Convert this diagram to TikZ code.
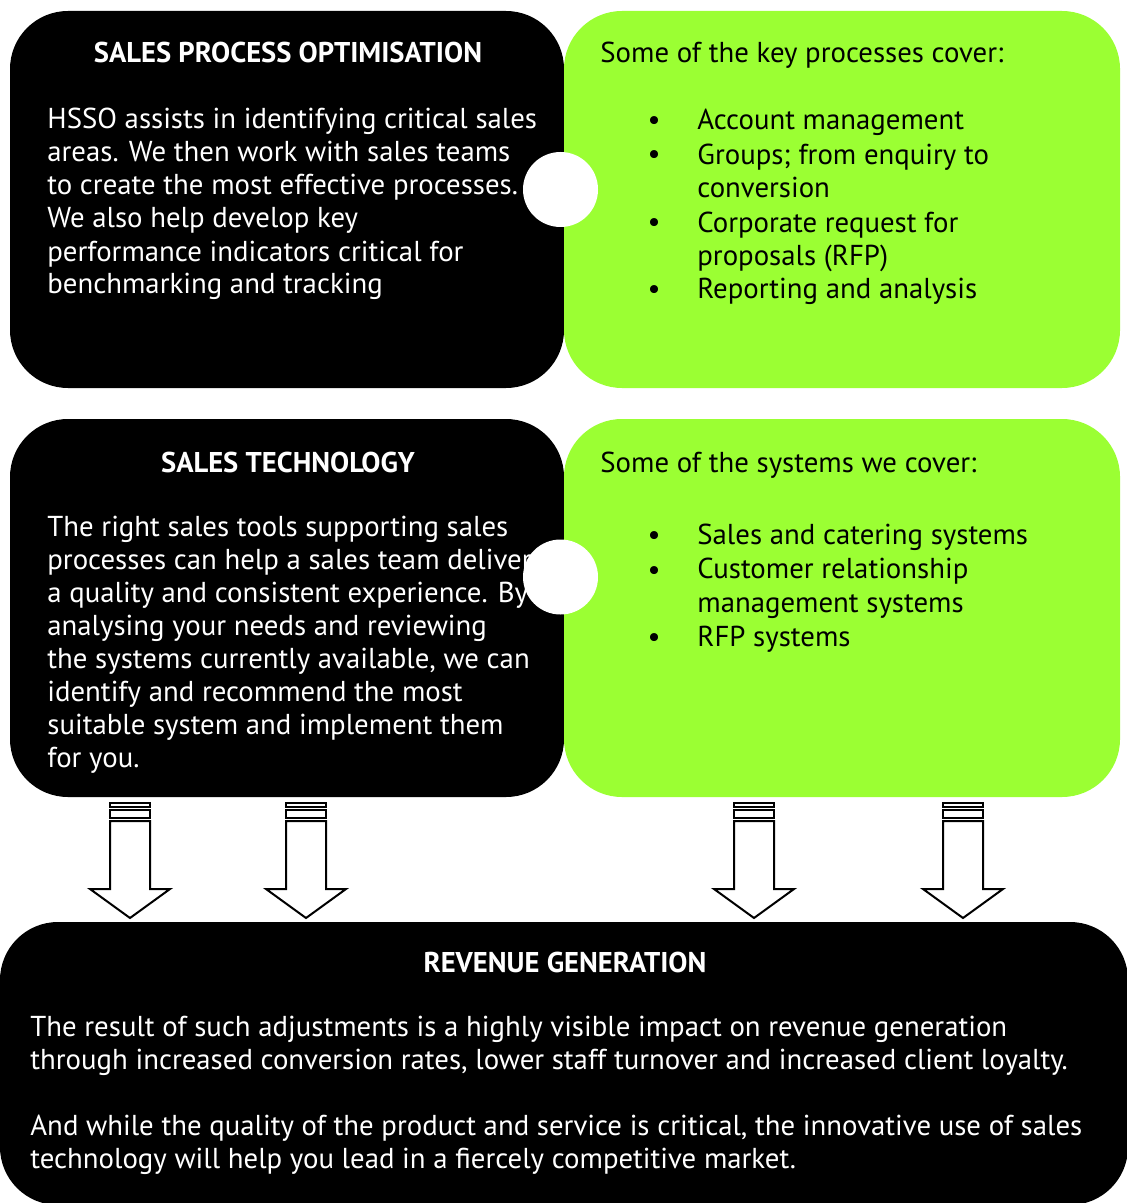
\documentclass[tikz,border=0pt]{standalone}
\usepackage{fontspec}
\setmainfont{PT Sans}
\usetikzlibrary{positioning}
\definecolor{limegreen}{HTML}{9BFF33}
\def\hollowarrow(#1){\draw[arrowline] (#1-20,821) -- (#1-20,889) -- (#1-40,889) -- (#1,918) -- (#1+40,889) -- (#1+20,889) -- (#1+20,821) -- cycle;
	\draw[arrowline] (#1-20,803) rectangle (#1+20,807);
	\draw[arrowline] (#1-20,810) rectangle (#1+20,818);}
\tikzset{
	darkbox/.style={fill=black, draw=none, rounded corners=29pt},
	greenbox/.style={fill=limegreen, draw=none, rounded corners=29pt},
	headtext/.style={text=white, inner sep=0pt, anchor=base, font=\bfseries\fontsize{14.3}{16}\selectfont},
	bodytext/.style={text=white, inner sep=0pt, anchor=base west, align=left, font=\fontsize{14.4}{16.5}\selectfont},
	listtext/.style={text=black, inner sep=0pt, anchor=base west, align=left, font=\fontsize{14.4}{16.9}\selectfont},
	dot/.style={text=black, inner sep=0pt, anchor=base, font=\fontsize{14.4}{16.9}\selectfont},
	knob/.style={circle, fill=white, minimum size=37.5pt, inner sep=0pt},
	arrowline/.style={draw=black, fill=white, line width=1pt}
}
\begin{document}
\begin{tikzpicture}[x=0.5pt, y=-0.5pt]
			%%%%% START %%%%%
			\useasboundingbox (0,0) rectangle (1126,1203);
			
			% multi-line texts sit on the baseline of their last line
			\fill[darkbox] (10,11) rectangle (564,388);
			\fill[greenbox] (564,11) rectangle (1120,388);
			\node[knob] (optknob) at (560.5,189.5) {};
			
			\node[headtext] (opttitle) at (288,63) {SALES PROCESS OPTIMISATION};
			\node[bodytext] (opttext) at (47,294) {HSSO assists in identifying critical sales\\areas. We then work with sales teams\\to create the most effective processes.\\We also help develop key\\performance indicators critical for\\benchmarking and tracking};
			
			\node[listtext] (optintro) at (600,63) {Some of the key processes cover:};
			\node[dot] (optdota) at (654,130) {•};
			\node[listtext] (optitema) at (697,130) {Account management};
			\node[dot] (optdotb) at (654,164) {•};
			\node[listtext] (optitemb) at (697,198) {Groups; from enquiry to\\conversion};
			\node[dot] (optdotc) at (654,232) {•};
			\node[listtext] (optitemc) at (697,266) {Corporate request for\\proposals (RFP)};
			\node[dot] (optdotd) at (654,299) {•};
			\node[listtext] (optitemd) at (697,299) {Reporting and analysis};
			
			\fill[darkbox] (10,419) rectangle (564,797);
			\fill[greenbox] (564,419) rectangle (1120,797);
			\node[knob] (techknob) at (560.5,577) {};
			
			\node[headtext] (techtitle) at (288,472) {SALES TECHNOLOGY};
			\node[bodytext] (techtext) at (47,767) {The right sales tools supporting sales\\processes can help a sales team deliver\\a quality and consistent experience. By\\analysing your needs and reviewing\\the systems currently available, we can\\identify and recommend the most\\suitable system and implement them\\for you.};
			
			\node[listtext] (techintro) at (600,472) {Some of the systems we cover:};
			\node[dot] (techdota) at (654,544) {•};
			\node[listtext] (techitema) at (697,544) {Sales and catering systems};
			\node[dot] (techdotb) at (654,579) {•};
			\node[listtext] (techitemb) at (697,612) {Customer relationship\\management systems};
			\node[dot] (techdotc) at (654,646) {•};
			\node[listtext] (techitemc) at (697,646) {RFP systems};
			
			\hollowarrow(130)
			\hollowarrow(306)
			\hollowarrow(754)
			\hollowarrow(963)
			
			\fill[darkbox] (0,922) rectangle (1128,1205);
			\node[headtext] (revtitle) at (565,972) {REVENUE GENERATION};
			\node[bodytext] (revtexta) at (30,1069) {The result of such adjustments is a highly visible impact on revenue generation\\through increased conversion rates, lower staff turnover and increased client loyalty.};
			\node[bodytext] (revtextb) at (30,1168) {And while the quality of the product and service is critical, the innovative use of sales\\technology will help you lead in a fiercely competitive market.};
			
			%%%%% END %%%%%
\end{tikzpicture}
\end{document}
